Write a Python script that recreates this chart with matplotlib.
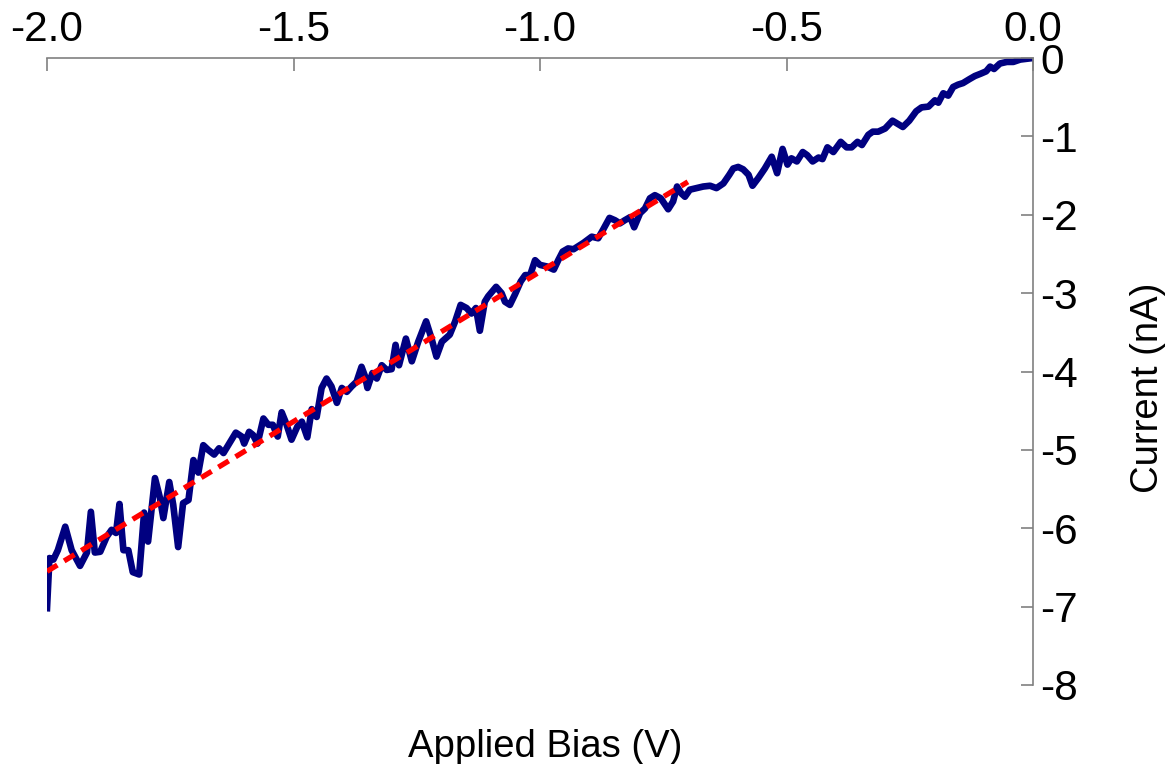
import matplotlib
matplotlib.use("Agg")
import matplotlib.pyplot as plt
import numpy as np

plt.rcParams['font.family'] = ['Liberation Sans', 'DejaVu Sans']
plt.rcParams['axes.unicode_minus'] = False

bias = [
    -2.000, -1.995, -1.987, -1.978, -1.963, -1.950, -1.933, -1.919, -1.911, -1.903,
    -1.892, -1.879, -1.869, -1.860, -1.853, -1.845, -1.835, -1.826, -1.813, -1.803,
    -1.795, -1.781, -1.771, -1.764, -1.752, -1.744, -1.734, -1.724, -1.713, -1.703,
    -1.693, -1.683, -1.673, -1.661, -1.651, -1.642, -1.617, -1.605, -1.600, -1.590,
    -1.582, -1.573, -1.561, -1.551, -1.542, -1.532, -1.524, -1.515, -1.504, -1.492,
    -1.483, -1.472, -1.463, -1.453, -1.443, -1.433, -1.423, -1.412, -1.402, -1.392,
    -1.382, -1.372, -1.362, -1.355, -1.350, -1.340, -1.331, -1.321, -1.311, -1.301,
    -1.293, -1.286, -1.272, -1.260, -1.247, -1.231, -1.220, -1.210, -1.199, -1.183,
    -1.172, -1.161, -1.149, -1.139, -1.130, -1.122, -1.112, -1.105, -1.089, -1.078,
    -1.071, -1.061, -1.051, -1.039, -1.030, -1.020, -1.010, -1.000, -0.986, -0.972,
    -0.963, -0.954, -0.943, -0.932, -0.922, -0.912, -0.895, -0.882, -0.872, -0.859,
    -0.848, -0.838, -0.828, -0.817, -0.809, -0.797, -0.787, -0.777, -0.767, -0.755,
    -0.740, -0.730, -0.722, -0.713, -0.706, -0.696, -0.682, -0.669, -0.655, -0.642,
    -0.628, -0.616, -0.608, -0.598, -0.588, -0.577, -0.569, -0.557, -0.544, -0.530,
    -0.519, -0.508, -0.498, -0.490, -0.479, -0.467, -0.458, -0.447, -0.435, -0.427,
    -0.417, -0.405, -0.390, -0.378, -0.368, -0.356, -0.347, -0.334, -0.325, -0.314,
    -0.300, -0.285, -0.277, -0.264, -0.251, -0.237, -0.226, -0.212, -0.199, -0.192,
    -0.182, -0.172, -0.162, -0.152, -0.142, -0.129, -0.118, -0.106, -0.095, -0.087,
    -0.079, -0.067, -0.053, -0.040, -0.026, -0.013, 0.000,
]
current = [
    -7.02, -6.38, -6.40, -6.28, -5.98, -6.28, -6.48, -6.31, -5.79, -6.31,
    -6.30, -6.11, -6.02, -6.06, -5.69, -6.28, -6.28, -6.56, -6.59, -5.80,
    -6.17, -5.36, -5.61, -5.87, -5.41, -5.70, -6.24, -5.68, -5.64, -5.13,
    -5.29, -4.94, -5.00, -5.06, -4.98, -5.04, -4.78, -4.83, -4.92, -4.77,
    -4.81, -4.92, -4.60, -4.68, -4.68, -4.83, -4.52, -4.66, -4.87, -4.70,
    -4.64, -4.84, -4.48, -4.58, -4.21, -4.09, -4.19, -4.40, -4.21, -4.26,
    -4.19, -4.13, -3.94, -4.06, -4.21, -4.02, -4.09, -3.92, -3.98, -3.97,
    -3.66, -3.92, -3.58, -3.87, -3.62, -3.36, -3.58, -3.81, -3.62, -3.53,
    -3.36, -3.15, -3.19, -3.26, -3.19, -3.48, -3.11, -3.04, -2.92, -3.00,
    -3.11, -3.15, -3.02, -2.85, -2.77, -2.77, -2.58, -2.64, -2.66, -2.70,
    -2.58, -2.47, -2.43, -2.44, -2.40, -2.36, -2.28, -2.30, -2.19, -2.04,
    -2.07, -2.11, -2.07, -2.03, -2.16, -1.98, -1.92, -1.79, -1.75, -1.79,
    -1.93, -1.83, -1.64, -1.73, -1.77, -1.68, -1.66, -1.64, -1.63, -1.66,
    -1.60, -1.49, -1.41, -1.39, -1.42, -1.49, -1.63, -1.53, -1.41, -1.26,
    -1.47, -1.16, -1.36, -1.28, -1.32, -1.20, -1.24, -1.32, -1.27, -1.29,
    -1.14, -1.20, -1.07, -1.14, -1.14, -1.07, -1.11, -0.98, -0.94, -0.94,
    -0.90, -0.80, -0.83, -0.88, -0.80, -0.68, -0.63, -0.62, -0.54, -0.57,
    -0.45, -0.48, -0.37, -0.34, -0.32, -0.27, -0.23, -0.20, -0.17, -0.11,
    -0.14, -0.07, -0.05, -0.05, -0.02, -0.01, 0.00,
]

# linear fit (red dashed)
fit_bias = [-2.00, -0.70]
fit_current = [-6.55, -1.58]

xticks = [-2.0, -1.5, -1.0, -0.5, 0.0]
yticks = [0, -1, -2, -3, -4, -5, -6, -7, -8]

fig = plt.figure(figsize=(11.74, 7.64), dpi=100)
ax = fig.add_axes([47 / 1174, 1 - 685 / 764, 986 / 1174, 627 / 764])

ax.plot(bias, current, color='#000080', lw=4.8, solid_joinstyle='round', zorder=2)
ax.plot(fit_bias, fit_current, color='#ff0000', lw=3.8,
        linestyle=(0, (2.3, 1.5)), dash_capstyle='butt', zorder=3)

ax.set_xlim(-2.0, 0.0)
ax.set_ylim(-8, 0)

for s in ['left', 'bottom']:
    ax.spines[s].set_visible(False)
for s in ['top', 'right']:
    ax.spines[s].set_color('#808080')
    ax.spines[s].set_linewidth(1.2)

ax.xaxis.tick_top()
ax.yaxis.tick_right()
ax.set_xticks(xticks)
ax.set_xticklabels(['%.1f' % v for v in xticks])
ax.set_yticks(yticks)
ax.set_yticklabels([str(v) for v in yticks])
ax.tick_params(axis='x', direction='in', length=9, width=1.2, color='#808080',
               labelsize=30.5, pad=6)
ax.tick_params(axis='y', direction='in', length=9, width=1.2, color='#808080',
               labelsize=30.5, pad=5)

fig.text(545 / 1174, 1 - 757 / 764, 'Applied Bias (V)', fontsize=27.5,
         ha='center', va='baseline')
fig.text(1148 / 1174, 1 - 388 / 764, 'Current (nA)', fontsize=27.5,
         rotation=90, ha='center', va='center')

fig.savefig('out.png', dpi=100)
